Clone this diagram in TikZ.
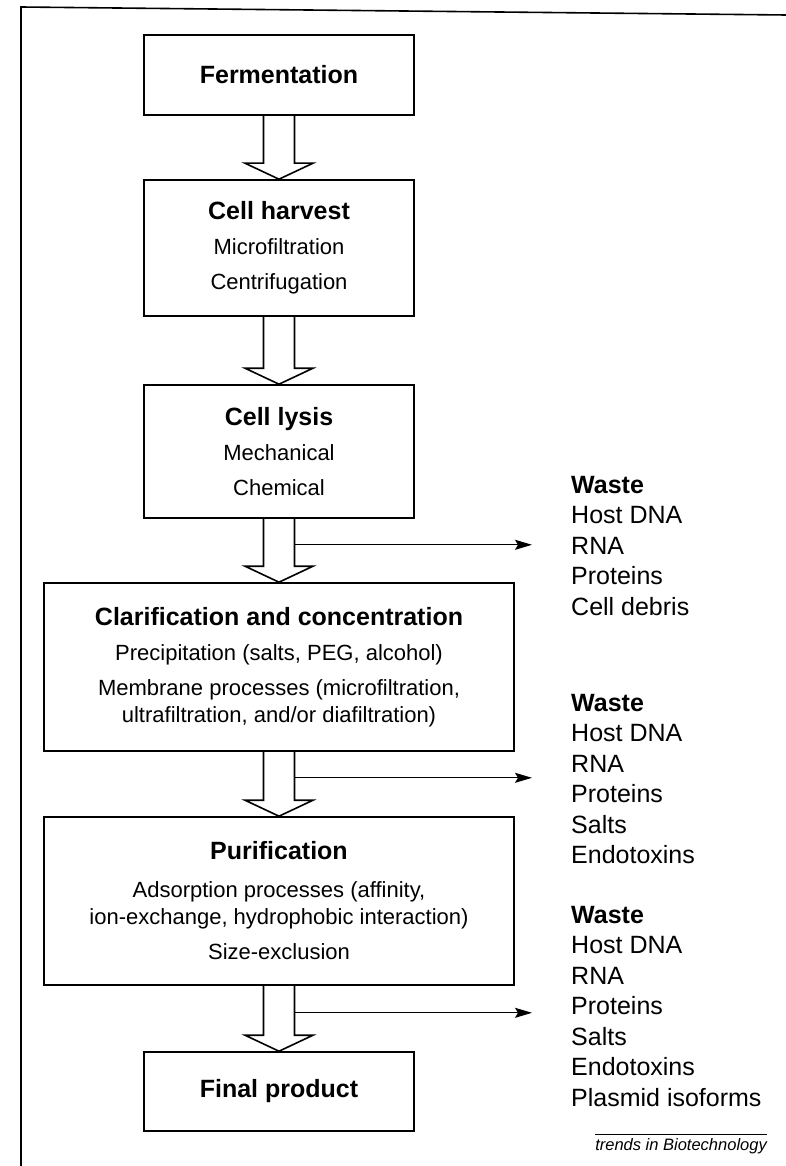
\documentclass[tikz,border=0pt]{standalone}
\usepackage{fontspec}
\setmainfont{Liberation Sans}
\usetikzlibrary{calc,arrows.meta}

\tikzstyle{stagebox} = [draw=black, line width=1.6pt, rectangle, inner sep=0pt,
    align=center, font=\fontsize{22}{27}\selectfont]
\tikzstyle{fatarrow} = [draw=black, line width=1.6pt, line join=miter]
\tikzstyle{wastearrow} = [draw=black, line width=1.3pt, shorten >=39pt,
    -{Stealth[length=17pt,width=10pt,inset=3pt]}]
\tikzstyle{wastelist} = [anchor=north west, inner sep=0pt, align=left,
    font=\fontsize{25}{30.5}\selectfont]

\newcommand{\stagehead}[1]{{\bfseries\fontsize{25}{27}\selectfont #1}}
\newcommand{\flowarrow}[2]{%
    \draw[fatarrow] ($(#1.south)+(-15.5,0)$) -- ($(#2.north)+(-15.5,-16)$)
        -- ($(#2.north)+(-34,-16)$) -- (#2.north) -- ($(#2.north)+(34,-16)$)
        -- ($(#2.north)+(15.5,-16)$) -- ($(#1.south)+(15.5,0)$);}

\begin{document}
\begin{tikzpicture}[x=1pt, y=-1pt]
                \useasboundingbox (0,0) rectangle (786,1166);
                \draw[line width=1.6pt] (21,1166) -- (21,7) -- (786,15);

                % process steps
                \node[stagebox, minimum width=270pt, minimum height=80pt] (ferm) at (279,75) {\stagehead{Fermentation}};
                \node[stagebox, minimum width=270pt, minimum height=136pt] (harvest) at (279,248) {%
                    \stagehead{Cell harvest}\\[8pt] Microfiltration\\[8pt] Centrifugation};
                \node[stagebox, minimum width=270pt, minimum height=133pt] (lysis) at (279,451.5) {%
                    \stagehead{Cell lysis}\\[8pt] Mechanical\\[8pt] Chemical};
                \node[stagebox, minimum width=470pt, minimum height=168pt] (clar) at (279,667) {%
                    \stagehead{Clarification and concentration}\\[8pt]
                    Precipitation (salts, PEG, alcohol)\\[8pt]
                    Membrane processes (microfiltration,\\
                    ultrafiltration, and/or diafiltration)};
                \node[stagebox, minimum width=470pt, minimum height=168pt] (purif) at (279,901) {%
                    \stagehead{Purification}\\[11pt]
                    Adsorption processes (affinity,\\
                    ion-exchange, hydrophobic interaction)\\[8pt]
                    Size-exclusion};
                \node[stagebox, minimum width=270pt, minimum height=79pt] (final) at (279,1091.5) {\stagehead{Final product}};

                \flowarrow{ferm}{harvest}
                \flowarrow{harvest}{lysis}
                \flowarrow{lysis}{clar}
                \flowarrow{clar}{purif}
                \flowarrow{purif}{final}

                % waste streams
                \node[wastelist] (waste1) at (571,476) {\textbf{Waste}\\ Host DNA\\ RNA\\ Proteins\\ Cell debris};
                \node[wastelist] (waste2) at (571,694) {\textbf{Waste}\\ Host DNA\\ RNA\\ Proteins\\ Salts\\ Endotoxins};
                \node[wastelist] (waste3) at (571,906) {\textbf{Waste}\\ Host DNA\\ RNA\\ Proteins\\ Salts\\ Endotoxins\\ Plasmid isoforms};

                \coordinate (s1) at ($(lysis.south)+(15.5,26)$);
                \coordinate (s2) at ($(clar.south)+(15.5,26)$);
                \coordinate (s3) at ($(purif.south)+(15.5,27)$);
                \draw[wastearrow] (s1) -- (s1 -| waste1.west);
                \draw[wastearrow] (s2) -- (s2 -| waste2.west);
                \draw[wastearrow] (s3) -- (s3 -| waste3.west);

                \node[font=\fontsize{16.5}{18}\selectfont\itshape, inner sep=0pt, anchor=base east] (credit) at (767,1150) {trends in Biotechnology};
                \draw[line width=1.2pt] ([yshift=3pt]credit.north west) -- ([yshift=3pt]credit.north east);
            \end{tikzpicture}
\end{document}
